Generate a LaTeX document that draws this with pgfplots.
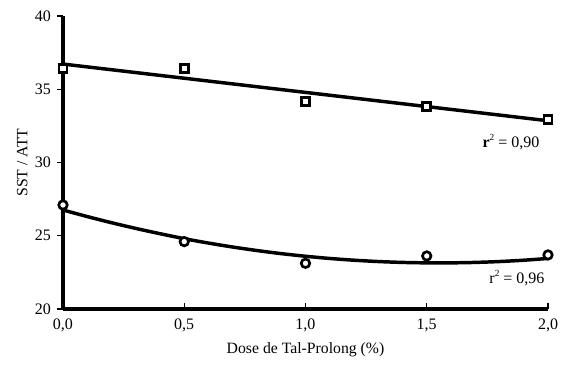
\documentclass[border=0pt]{standalone}
\usepackage{pgfplots}
\pgfplotsset{compat=1.18}
\usepackage{fontspec}
\setmainfont{Liberation Serif}
\begin{document}
\begin{tikzpicture}
\path[use as bounding box] (-47.25pt,-44.25pt) rectangle (373.5pt,231.75pt);
\begin{axis}[
  at={(0,0)}, anchor=south west,
  scale only axis,
  width=363.75pt, height=219.75pt,
  xmin=0, xmax=2, ymin=20, ymax=40,
  clip=false,
  axis x line*=bottom, axis y line*=left,
  axis line style={line width=2.7pt, -},
  xtick={0,0.5,1,1.5,2},
  xticklabels={{0,0},{0,5},{1,0},{1,5},{2,0}},
  ytick={20,25,30,35,40},
  yticklabels={20,25,30,35,40},
  xtick style={line width=0.8pt, black},
  ytick style={line width=0.8pt, black},
  major tick length=4.5pt,
  xtick align=inside, ytick align=outside,
  tick label style={font=\fontsize{12}{14}\selectfont},
  xticklabel style={yshift=-4pt},
  yticklabel style={xshift=-1pt},
  label style={font=\fontsize{11.8}{14}\selectfont},
  xlabel={Dose de Tal-Prolong (\%)},
  ylabel={SST / ATT},
  xlabel style={at={(axis description cs:0.5,0)}, anchor=north, yshift=-22pt},
  ylabel style={at={(axis description cs:0,0.5)}, anchor=south, yshift=23pt},
]
% fitted line (squares)
\addplot[black, line width=2.6pt] coordinates {(0,36.72) (2,32.85)};
% fitted curve (circles)
\addplot[black, line width=2.6pt, smooth] coordinates {
(0,26.76) (0.1,26.31) (0.2,25.89) (0.3,25.50) (0.4,25.14) (0.5,24.80)
(0.6,24.50) (0.7,24.23) (0.8,23.99) (0.9,23.78) (1.0,23.60) (1.1,23.45)
(1.2,23.33) (1.3,23.24) (1.4,23.18) (1.5,23.15) (1.6,23.15) (1.7,23.18)
(1.8,23.24) (1.9,23.33) (2.0,23.45)};
% squares
\addplot[only marks, mark=square*, mark size=3pt, mark options={fill=white, draw=black, line width=2pt}]
coordinates {(0,36.43) (0.5,36.43) (1,34.15) (1.5,33.81) (2,32.95)};
% circles
\addplot[only marks, mark=*, mark size=3.2pt, mark options={fill=white, draw=black, line width=2pt}]
coordinates {(0,27.1) (0.5,24.6) (1,23.12) (1.5,23.62) (2,23.69)};
\node[font=\fontsize{12}{14}\selectfont] at (axis cs:1.847,31.4) {\textbf{r}\raisebox{0.9ex}{\scriptsize 2} = 0,90};
\node[font=\fontsize{12}{14}\selectfont] at (axis cs:1.872,22.1) {r\raisebox{0.9ex}{\scriptsize 2} = 0,96};
\end{axis}
\end{tikzpicture}
\end{document}
